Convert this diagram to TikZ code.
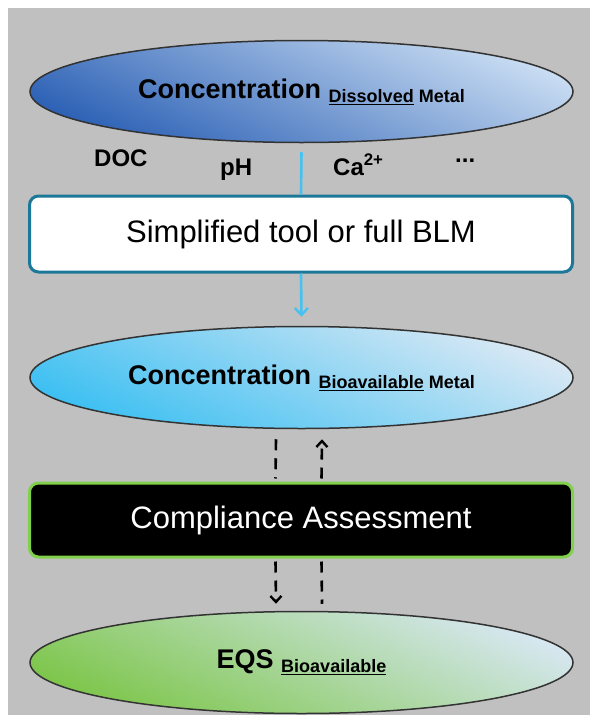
\documentclass[tikz,border=0pt]{standalone}
\usepackage{fontspec}
\setmainfont{Liberation Sans}
\usetikzlibrary{shapes.geometric,arrows.meta}
\definecolor{bg}{HTML}{C0C0C0}
\definecolor{bluedark}{HTML}{2E62B6}
\definecolor{bluelight}{HTML}{C8DCF2}
\definecolor{cyandark}{HTML}{3EC0F2}
\definecolor{cyanlight}{HTML}{D8E8F4}
\definecolor{greendark}{HTML}{7EC64C}
\definecolor{greenlight}{HTML}{D6E7F0}
\definecolor{tealborder}{HTML}{1C7898}
\definecolor{greenborder}{HTML}{80D04C}
\definecolor{lineblue}{HTML}{46C2F0}
\tikzset{
  ell/.style 2 args={ellipse, minimum width=543pt, minimum height=102pt, inner sep=0pt,
    draw=black!80, line width=1.5pt, top color=#1, bottom color=#2, shading angle=-25},
  mainfont/.style={font=\fontsize{27}{30}\selectfont\bfseries},
  boxstyle/.style={rectangle, rounded corners=9pt, minimum width=543pt, inner sep=0pt,
    line width=3pt, font=\fontsize{31}{34}\selectfont},
  lbl/.style={anchor=base west, inner sep=0pt, font=\fontsize{24}{26}\selectfont\bfseries},
  blueline/.style={draw=lineblue, line width=2.6pt},
  dashline/.style={draw=black, line width=2.6pt, dash pattern=on 11pt off 8pt},
  tip/.style={-{Straight Barb[length=6pt,width=11pt,line width=2.4pt]}}
}
\newcommand{\subtxt}[1]{{\fontsize{18}{20}\selectfont\raisebox{-4pt}{#1}}}
\begin{document}
\begin{tikzpicture}[x=1pt,y=-1pt]
\useasboundingbox (0,0) rectangle (590,715);
\fill[bg] (8,8) rectangle (590,715);

\node[ell={bluelight}{bluedark}, mainfont] (e1) at (301.5,91.5)
  {Concentration \subtxt{\underline{Dissolved} Metal}};

\node[lbl] (doc) at (94,166) {DOC};
\node[lbl] (ph) at (220,175) {pH};
\node[lbl] (ca) at (333,175) {Ca\textsuperscript{2+}};
\node[lbl] (dots) at (455,162) {...};

\node[boxstyle, minimum height=76pt, fill=white, draw=tealborder] (b1) at (301,234)
  {Simplified tool or full BLM};

\node[ell={cyanlight}{cyandark}, mainfont] (e2) at (301.5,377.5)
  {Concentration \subtxt{\underline{Bioavailable} Metal}};

\node[boxstyle, minimum height=74pt, fill=black, draw=greenborder, text=white] (b2) at (301,520)
  {Compliance Assessment};

\node[ell={greenlight}{greendark}, mainfont] (e3) at (301.5,662.5)
  {EQS \subtxt{\underline{Bioavailable}}};

\draw[blueline] ([yshift=-9pt]e1.south) -- (b1.north);
\draw[blueline, -{Straight Barb[length=7pt,width=13pt,line width=2.4pt]}] (b1.south) -- ([yshift=9pt]e2.north);

\draw[dashline] ([xshift=-25.5pt,yshift=-10pt]e2.south) -- ([xshift=-25.5pt,yshift=3pt]b2.north);
\draw[dashline, tip] ([xshift=-25.5pt,yshift=-3pt]b2.south) -- ([xshift=-25.5pt,yshift=7pt]e3.north);
\draw[dashline, tip] ([xshift=20.5pt,yshift=3pt]b2.north) -- ([xshift=20.5pt,yshift=-10pt]e2.south);
\draw[dashline] ([xshift=20.5pt,yshift=-3pt]b2.south) -- ([xshift=20.5pt,yshift=7pt]e3.north);
\end{tikzpicture}
\end{document}
